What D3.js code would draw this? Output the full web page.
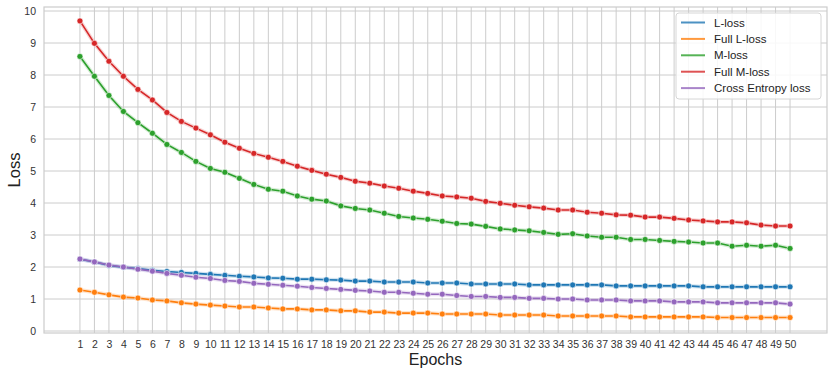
<!DOCTYPE html>
<html>
<head>
<meta charset="utf-8">
<script src="https://cdn.jsdelivr.net/npm/d3@7"></script>
<style>
  html, body { margin: 0; padding: 0; background: #fff; }
  svg { display: block; }
  text { font-family: "Liberation Sans", Arial, sans-serif; }
</style>
</head>
<body>
<svg id="chart" width="832" height="375"></svg>
<script>
const epochs = d3.range(1, 51);
const yTicks = [0, 1, 2, 3, 4, 5, 6, 7, 8, 9, 10];
const seriesNames = ["L-loss", "Full L-loss", "M-loss", "Full M-loss", "Cross Entropy loss"];
const seriesColors = ["#1f77b4", "#ff7f0e", "#2ca02c", "#d62728", "#9467bd"];

const lLoss = [2.24, 2.16, 2.05, 1.99, 1.95, 1.90, 1.86, 1.83, 1.80, 1.77,
               1.74, 1.71, 1.69, 1.66, 1.65, 1.62, 1.62, 1.60, 1.59, 1.56,
               1.56, 1.53, 1.53, 1.53, 1.50, 1.50, 1.50, 1.47, 1.47, 1.47,
               1.47, 1.44, 1.44, 1.44, 1.44, 1.44, 1.44, 1.41, 1.41, 1.41,
               1.41, 1.41, 1.41, 1.38, 1.38, 1.38, 1.38, 1.38, 1.38, 1.38];
const fullLLoss = [1.28, 1.21, 1.13, 1.06, 1.03, 0.97, 0.94, 0.88, 0.84, 0.81,
                   0.78, 0.75, 0.75, 0.72, 0.69, 0.69, 0.66, 0.66, 0.63, 0.63,
                   0.59, 0.59, 0.56, 0.56, 0.56, 0.53, 0.53, 0.53, 0.53, 0.50,
                   0.50, 0.50, 0.50, 0.47, 0.47, 0.47, 0.47, 0.47, 0.44, 0.44,
                   0.44, 0.44, 0.44, 0.44, 0.42, 0.42, 0.42, 0.42, 0.42, 0.42];
const mLoss = [8.58, 7.96, 7.36, 6.86, 6.51, 6.18, 5.83, 5.58, 5.30, 5.08,
               4.96, 4.77, 4.58, 4.43, 4.37, 4.22, 4.12, 4.06, 3.91, 3.83,
               3.78, 3.68, 3.58, 3.53, 3.49, 3.43, 3.36, 3.34, 3.27, 3.19,
               3.16, 3.13, 3.08, 3.02, 3.04, 2.97, 2.93, 2.93, 2.86, 2.86,
               2.83, 2.80, 2.78, 2.75, 2.75, 2.65, 2.68, 2.65, 2.68, 2.58];
const fullMLoss = [9.69, 8.99, 8.43, 7.96, 7.55, 7.22, 6.83, 6.55, 6.34, 6.13,
                   5.90, 5.71, 5.55, 5.43, 5.30, 5.15, 5.02, 4.90, 4.80, 4.68,
                   4.62, 4.53, 4.46, 4.37, 4.30, 4.22, 4.19, 4.15, 4.05, 3.99,
                   3.93, 3.88, 3.84, 3.78, 3.78, 3.71, 3.68, 3.63, 3.62, 3.56,
                   3.56, 3.52, 3.47, 3.44, 3.41, 3.41, 3.38, 3.31, 3.28, 3.28];
const ceLoss = [2.25, 2.16, 2.06, 2.00, 1.93, 1.87, 1.80, 1.74, 1.68, 1.64,
                1.58, 1.55, 1.49, 1.46, 1.43, 1.40, 1.36, 1.33, 1.30, 1.27,
                1.25, 1.21, 1.21, 1.18, 1.15, 1.15, 1.11, 1.08, 1.08, 1.05,
                1.05, 1.02, 1.02, 1.00, 1.00, 0.97, 0.97, 0.97, 0.94, 0.94,
                0.94, 0.91, 0.91, 0.91, 0.88, 0.88, 0.88, 0.88, 0.88, 0.84];

const seriesValues = [lLoss, fullLLoss, mLoss, fullMLoss, ceLoss];

const svg = d3.select("#chart");
const plotLeft = 44, plotRight = 827, plotTop = 7, plotBottom = 333;
const gridColor = "#cccccc";

const x = d3.scaleLinear().domain([-1.48, 52.55]).range([plotLeft, plotRight]);
const y = d3.scaleLinear().domain([-0.0625, 10.125]).range([plotBottom, plotTop]);

// gridlines
const grid = svg.append("g");
grid.selectAll(".vg").data(epochs).enter().append("line")
  .attr("x1", d => x(d)).attr("x2", d => x(d))
  .attr("y1", plotTop).attr("y2", plotBottom)
  .attr("stroke", gridColor).attr("stroke-width", 1);
grid.selectAll(".hg").data(yTicks).enter().append("line")
  .attr("x1", plotLeft).attr("x2", plotRight)
  .attr("y1", d => y(d)).attr("y2", d => y(d))
  .attr("stroke", gridColor).attr("stroke-width", 1);

// frame
svg.append("rect").attr("x", plotLeft).attr("y", plotTop)
  .attr("width", plotRight - plotLeft).attr("height", plotBottom - plotTop)
  .attr("fill", "none").attr("stroke", gridColor).attr("stroke-width", 1.2);

// axes (labels only)
const xAxis = d3.axisBottom(x).tickValues(epochs).tickSize(0).tickPadding(8).tickFormat(d3.format("d"));
const xg = svg.append("g").attr("transform", `translate(0,${plotBottom})`).call(xAxis);
xg.select(".domain").remove();
xg.selectAll("text").attr("font-size", 10.5).attr("fill", "#333")
  .attr("font-family", "'Liberation Sans', Arial, sans-serif");

const yAxis = d3.axisLeft(y).tickValues(yTicks).tickSize(0).tickPadding(8).tickFormat(d3.format("d"));
const yg = svg.append("g").attr("transform", `translate(${plotLeft},0)`).call(yAxis);
yg.select(".domain").remove();
yg.selectAll("text").attr("font-size", 10.5).attr("fill", "#333")
  .attr("font-family", "'Liberation Sans', Arial, sans-serif");

// axis titles
svg.append("text").attr("x", (plotLeft + plotRight) / 2).attr("y", 365)
  .attr("text-anchor", "middle").attr("font-size", 16).attr("fill", "#222").text("Epochs");
svg.append("text").attr("transform", `translate(20,${(plotTop + plotBottom) / 2}) rotate(-90)`)
  .attr("text-anchor", "middle").attr("font-size", 16.5).attr("fill", "#222").text("Loss");

// lines
const line = d3.line().x((d, i) => x(epochs[i])).y(d => y(d));
seriesValues.forEach((vals, si) => {
  const g = svg.append("g");
  g.append("path").datum(vals).attr("d", line)
    .attr("fill", "none").attr("stroke", seriesColors[si])
    .attr("stroke-width", 4).attr("stroke-opacity", 0.2);
  g.append("path").datum(vals).attr("d", line)
    .attr("fill", "none").attr("stroke", seriesColors[si]).attr("stroke-width", 1.6);
  g.selectAll("circle").data(vals).enter().append("circle")
    .attr("cx", (d, i) => x(epochs[i])).attr("cy", d => y(d)).attr("r", 3)
    .attr("fill", seriesColors[si]).attr("stroke", "#fff").attr("stroke-width", 0.6);
});

// legend
const lg = svg.append("g");
lg.append("rect").attr("x", 676).attr("y", 13).attr("width", 145).attr("height", 86)
  .attr("rx", 3).attr("fill", "#fff").attr("fill-opacity", 0.85)
  .attr("stroke", "#d6d6d6").attr("stroke-width", 1);
seriesNames.forEach((name, i) => {
  const yy = 22.5 + i * 16.4;
  lg.append("line").attr("x1", 681).attr("x2", 705).attr("y1", yy).attr("y2", yy)
    .attr("stroke", seriesColors[i]).attr("stroke-width", 2).attr("stroke-opacity", 0.8);
  lg.append("text").attr("x", 714).attr("y", yy).attr("dy", "0.35em")
    .attr("font-size", 11.5).attr("fill", "#222").text(name);
});
</script>
</body>
</html>
